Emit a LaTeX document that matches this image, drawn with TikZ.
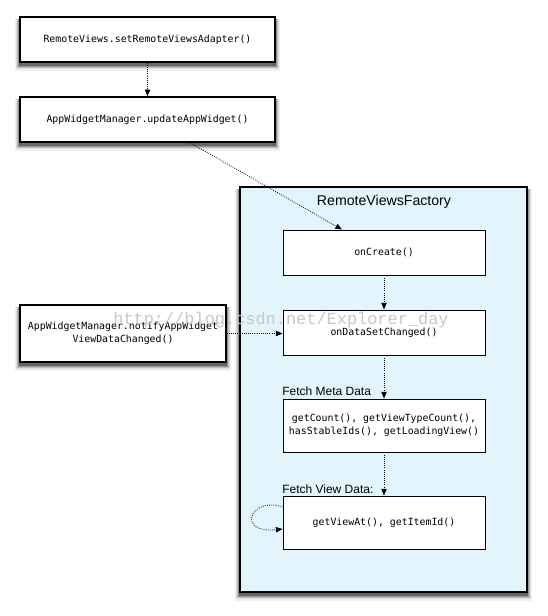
\documentclass[tikz,border=0pt]{standalone}
\usepackage{fontspec}
\setmainfont{Liberation Sans}
\newfontfamily\codefont{DejaVu Sans Mono}
\newfontfamily\markfont{Liberation Mono}
\usetikzlibrary{arrows.meta,backgrounds,calc}
\definecolor{factoryblue}{RGB}{226,245,253}

% soft shadow below a named box, drawn as stacked grey bands
\newcommand{\boxshadow}[1]{%
  \foreach \spread/\drop/\shade in {4/8/6, 3/6.5/14, 2/5/26, 1/3.8/42, 0/2.8/60}
    \fill [black!\shade] ($(#1.north west)+(-\spread,3)$) rectangle ($(#1.south east)+(\spread,\drop)$);%
}

\begin{document}
\begin{tikzpicture}[x=0.75pt,y=0.75pt,yscale=-1,xscale=1,
  callbox/.style={draw, line width=1.1pt, fill=white, inner sep=0.75pt, align=center,
    font=\codefont\fontsize{7.4}{10}\selectfont},
  stepbox/.style={draw, line width=0.7pt, fill=white, inner sep=0.75pt, align=center,
    minimum width=151.5pt, font=\codefont\fontsize{7.4}{10}\selectfont},
  flow/.style={densely dotted, line width=0.6pt, -{Triangle[length=5pt,width=4pt]}},
  tag/.style={anchor=west, inner sep=0pt, font=\fontsize{9}{11}\selectfont}
]
\useasboundingbox (0,0) rectangle (547,616);

%Shape: Rectangle [RemoteViewsFactory]
\node [draw, line width=1.1pt, fill=factoryblue, minimum width=215.25pt, minimum height=303.75pt]
  (factory) at (383.5,389.5) {};
% Text Node
\node [inner sep=0.75pt, font=\fontsize{10.6}{12}\selectfont] (factorytitle) at (384,202) {RemoteViewsFactory};

%Shape: Rectangle
\node [callbox, minimum width=191.25pt, minimum height=33.75pt] (adapter) at (147.5,39.5) {RemoteViews.setRemoteViewsAdapter()};
%Shape: Rectangle
\node [callbox, minimum width=191.25pt, minimum height=33.75pt] (update) at (147.5,119.5) {AppWidgetManager.updateAppWidget()};
%Shape: Rectangle
\node [callbox, minimum width=154.5pt, minimum height=42.75pt] (notify) at (123,333.5) {AppWidgetManager.notifyAppWidget\\ViewDataChanged()};

%Shape: Rectangle
\node [stepbox, minimum height=33.75pt] (create) at (384,252.5) {onCreate()};
%Shape: Rectangle
\node [stepbox, minimum height=33.75pt] (dataset) at (384,332.5) {onDataSetChanged()};
%Shape: Rectangle
\node [stepbox, minimum height=39.75pt] (meta) at (384,425.5) {getCount(), getViewTypeCount(),\\hasStableIds(), getLoadingView()};
%Shape: Rectangle
\node [stepbox, minimum height=39.75pt] (view) at (384,522.5) {getViewAt(), getItemId()};

% Text Node
\node [tag] (metatag) at (282,391) {Fetch Meta Data};
% Text Node
\node [tag] (viewtag) at (282,489) {Fetch View Data:};

%Shadows
\begin{scope}[on background layer]
\boxshadow{adapter}
\boxshadow{update}
\boxshadow{notify}
\boxshadow{factory}
\end{scope}

%Straight Lines
\draw [flow] (adapter) -- (update);
\draw [flow] ($(update.south)+(42.5,0)$) -- ($(create.north)+(-42,0)$);
\draw [flow] (create) -- (dataset);
\draw [flow] (notify.east) -- (notify.east -| dataset.west);
\draw [flow] (dataset) -- (meta);
\draw [flow] (meta) -- (view);
%Curve Lines
\draw [flow] ($(view.west)+(0,-15.5)$) .. controls (250,496) and (236,534) .. ($(view.west)+(0,6.5)$);

% Text Node
\node [inner sep=0pt, text=black!22, font=\markfont\fontsize{12.7}{14}\selectfont] (watermark) at (281,320) {http://blog.csdn.net/Explorer\_day};

\end{tikzpicture}
\end{document}
